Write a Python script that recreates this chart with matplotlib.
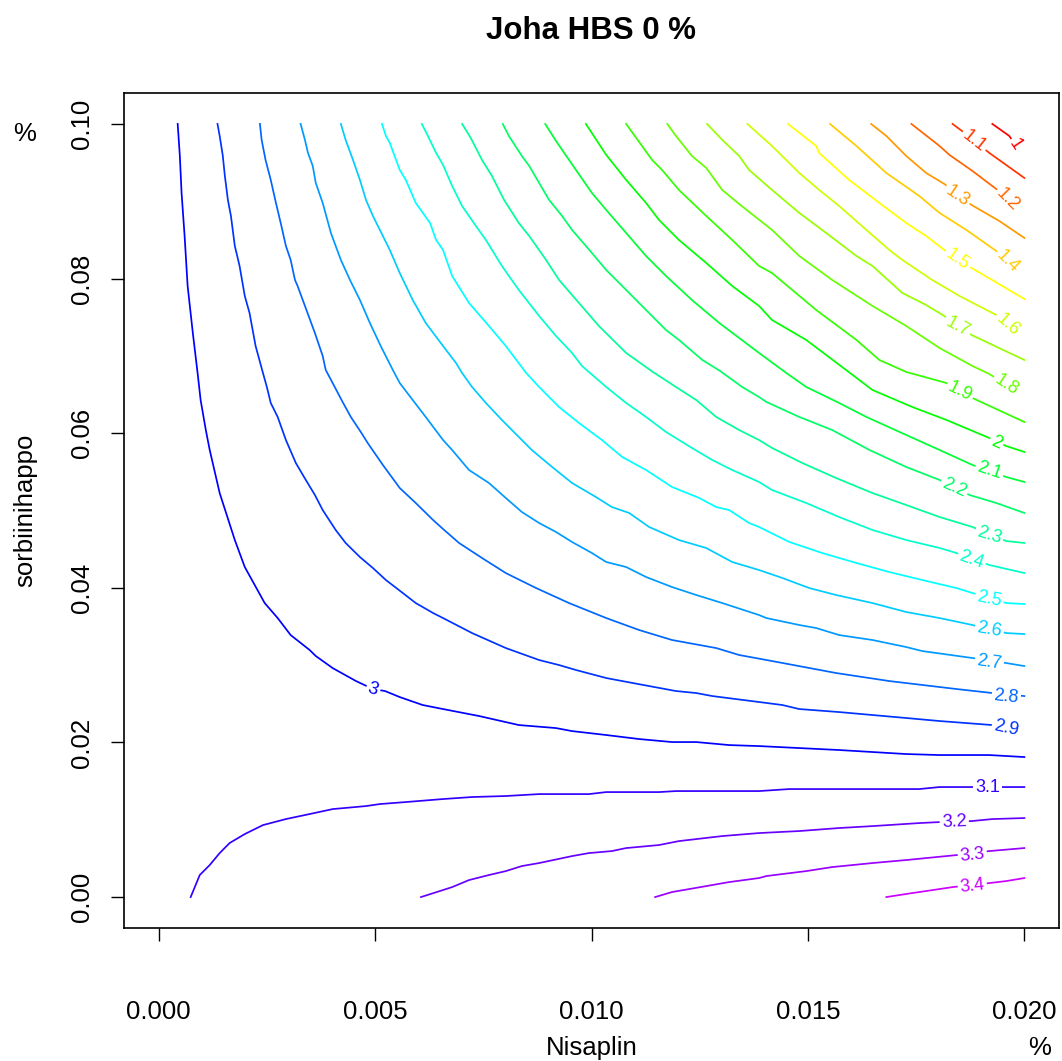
import colorsys
import numpy as np
import matplotlib
matplotlib.use("Agg")
import matplotlib.pyplot as plt

plt.rcParams['font.family'] = ['Liberation Sans', 'DejaVu Sans']

## Contour lines of the HBS response.
## x = Nisaplin (%), y = sorbiinihappo (%), both written in units of 1e-3 %

x_10 = [19.26, 19.65, 19.79]
y_10 = [100.0, 98.45, 97.28]
x_11 = [18.34, 18.59, 19.19, 20.0]
y_11 = [100.0, 98.96, 96.25, 93.01]
x_12 = [17.39, 18.04, 18.27, 18.80, 19.38, 19.61]
y_12 = [100.0, 97.15, 95.99, 93.92, 91.46, 90.17]
x_13 = [16.46, 16.81, 17.27, 17.73, 18.15, 18.78, 19.42, 20.0]
y_13 = [100.0, 98.45, 95.86, 93.66, 92.24, 89.52, 87.45, 85.25]
x_14 = [15.51, 16.12, 16.81, 17.57, 18.04, 18.66, 19.35, 19.61]
y_14 = [100.0, 97.15, 93.66, 90.69, 88.49, 86.29, 83.57, 82.15]
x_15 = [14.54, 15.19, 15.26, 15.95, 16.65, 17.27, 17.73, 18.15, 18.78, 20.0]
y_15 = [100.0, 97.15, 96.25, 92.76, 89.78, 87.19, 85.51, 83.70, 81.37, 77.36]
x_16 = [13.60, 14.17, 14.80, 15.26, 15.72, 16.35, 16.88, 17.18, 17.87, 18.50, 19.35, 19.61]
y_16 = [100.0, 97.15, 93.66, 91.46, 89.39, 86.29, 83.70, 82.41, 79.82, 77.75, 75.29, 74.00]
x_17 = [12.67, 13.02, 13.41, 13.64, 14.17, 14.80, 15.42, 16.12, 16.49, 17.18, 17.73, 18.15, 18.78, 20.0]
y_17 = [100.0, 97.93, 95.86, 94.05, 91.46, 88.49, 85.90, 82.92, 81.63, 78.14, 76.58, 75.16, 72.70, 69.47]
x_18 = [11.75, 11.95, 12.32, 12.65, 13.02, 13.41, 14.17, 14.80, 15.56, 16.49, 17.27, 18.04, 18.80, 19.19, 19.58]
y_18 = [100.0, 98.45, 95.86, 94.31, 91.46, 89.65, 86.29, 82.92, 79.82, 76.46, 73.87, 71.02, 68.69, 67.66, 66.24]
x_19 = [10.80, 11.40, 11.63, 12.02, 12.65, 13.25, 13.87, 14.17, 15.19, 16.12, 16.65, 17.27, 18.20, 18.80, 20.0]
y_19 = [100.0, 95.34, 94.05, 91.46, 88.10, 84.99, 81.63, 80.72, 75.94, 72.06, 69.47, 67.92, 66.49, 64.55, 61.45]
x_20 = [9.87, 10.34, 10.80, 11.26, 11.56, 12.02, 12.65, 13.25, 13.87, 14.17, 14.96, 15.88, 16.49, 17.41, 18.20, 19.19, 19.58, 20.0]
y_20 = [100.0, 95.99, 92.76, 89.78, 87.58, 84.99, 82.02, 79.04, 76.46, 74.64, 72.06, 68.18, 65.59, 63.39, 61.71, 59.38, 58.34, 57.57]
x_21 = [8.93, 9.18, 9.64, 10.01, 10.34, 10.80, 11.26, 11.72, 12.32, 12.95, 13.87, 14.50, 14.96, 15.72, 16.35, 17.27, 18.04, 18.80, 19.58, 20.0]
y_21 = [100.0, 97.80, 94.05, 91.07, 88.87, 85.90, 82.92, 80.34, 77.23, 74.26, 70.38, 67.79, 65.98, 63.91, 62.10, 59.77, 57.83, 55.89, 54.33, 53.69]
x_22 = [7.95, 8.09, 8.39, 8.56, 8.79, 9.02, 9.32, 9.55, 9.87, 10.34, 10.80, 11.26, 11.72, 12.02, 12.56, 12.97, 13.48, 13.87, 14.04, 14.80, 15.56, 16.42, 17.27, 18.04, 18.73, 19.35, 20.0]
y_22 = [100.0, 98.45, 95.86, 94.57, 92.37, 90.17, 88.10, 86.29, 84.22, 81.11, 78.53, 75.94, 73.35, 72.06, 69.47, 68.05, 65.98, 64.68, 64.04, 62.10, 60.41, 57.83, 55.63, 53.95, 52.01, 50.97, 49.68]
x_23 = [7.01, 7.21, 7.47, 7.70, 7.98, 8.32, 8.56, 8.95, 9.25, 9.71, 10.17, 10.80, 11.40, 11.95, 12.42, 12.88, 13.41, 13.87, 14.17, 14.87, 15.65, 16.49, 17.27, 18.04, 18.80, 19.58, 20.0]
y_23 = [100.0, 98.19, 95.34, 93.27, 90.17, 87.19, 85.51, 82.41, 79.82, 76.84, 73.87, 70.38, 67.99, 65.98, 64.29, 62.10, 60.41, 59.12, 58.09, 56.14, 54.20, 52.26, 50.71, 49.16, 47.87, 46.05, 45.80]
x_24 = [6.08, 6.22, 6.41, 6.57, 6.78, 7.01, 7.33, 7.56, 7.93, 8.32, 8.79, 9.18, 9.55, 9.78, 10.34, 10.80, 11.26, 11.72, 12.32, 12.79, 13.25, 13.87, 14.17, 14.96, 15.72, 16.49, 17.27, 18.04, 18.43, 19.19, 20.0]
y_24 = [100.0, 98.45, 96.25, 94.70, 91.98, 89.39, 86.80, 84.99, 81.63, 78.53, 75.16, 72.57, 70.38, 68.69, 65.98, 63.91, 62.10, 60.16, 58.09, 56.53, 55.24, 53.69, 52.65, 50.97, 49.16, 47.48, 46.18, 45.15, 44.50, 42.95, 41.91]
x_25 = [5.16, 5.25, 5.34, 5.57, 5.71, 5.94, 6.27, 6.41, 6.57, 6.78, 7.17, 7.63, 8.02, 8.49, 8.79, 9.25, 9.71, 10.24, 10.71, 11.26, 11.86, 12.49, 12.88, 13.18, 13.64, 13.87, 14.57, 15.33, 16.12, 16.88, 17.64, 18.43, 18.80, 19.58, 20.0]
y_25 = [100.0, 98.45, 97.54, 94.05, 92.76, 89.78, 87.19, 84.99, 83.70, 80.34, 76.84, 73.87, 71.28, 67.79, 65.98, 63.39, 61.32, 59.12, 56.92, 55.24, 53.04, 51.62, 50.45, 50.06, 48.38, 47.87, 45.93, 44.50, 43.21, 42.04, 41.01, 39.97, 39.33, 38.03, 37.90]
x_26 = [4.21, 4.32, 4.49, 4.65, 4.79, 4.95, 5.18, 5.34, 5.57, 5.87, 6.17, 6.57, 6.87, 7.01, 7.24, 7.56, 7.93, 8.16, 8.62, 9.09, 9.55, 10.10, 10.47, 10.87, 11.33, 12.02, 12.65, 13.25, 13.87, 14.41, 15.03, 15.65, 16.49, 17.27, 18.04, 18.80, 19.58, 20.0]
y_26 = [100.0, 97.93, 95.34, 92.76, 90.17, 88.10, 85.51, 83.70, 80.72, 77.23, 74.26, 71.28, 69.08, 67.79, 65.98, 63.91, 61.71, 60.41, 57.83, 55.63, 53.56, 51.75, 50.45, 49.68, 47.87, 46.18, 45.15, 43.34, 42.30, 41.27, 39.97, 39.07, 38.03, 36.87, 36.09, 35.19, 34.15, 34.02]
x_27 = [3.28, 3.38, 3.45, 3.56, 3.63, 3.79, 3.98, 4.09, 4.21, 4.42, 4.65, 4.88, 5.13, 5.41, 5.57, 5.87, 6.17, 6.57, 6.78, 7.17, 7.63, 8.02, 8.39, 8.79, 9.18, 9.55, 10.01, 10.34, 10.80, 11.26, 11.86, 12.42, 13.02, 13.87, 14.04, 14.80, 15.19, 15.72, 16.49, 17.27, 17.64, 18.80, 19.58, 20.0]
y_27 = [100.0, 97.93, 96.25, 94.57, 92.37, 89.78, 85.90, 84.22, 82.41, 79.82, 77.23, 74.26, 71.28, 68.18, 66.49, 64.29, 62.10, 59.12, 57.83, 55.24, 53.56, 51.62, 49.81, 48.38, 47.22, 45.93, 44.50, 43.34, 42.69, 41.40, 40.10, 39.07, 38.03, 36.48, 36.09, 35.19, 34.80, 33.89, 33.25, 32.34, 31.82, 30.92, 30.27, 29.88]
x_28 = [2.34, 2.38, 2.47, 2.59, 2.71, 2.82, 2.94, 3.05, 3.15, 3.21, 3.38, 3.61, 3.79, 3.86, 4.02, 4.25, 4.44, 4.67, 4.83, 5.18, 5.57, 5.94, 6.34, 6.57, 6.94, 7.47, 8.02, 8.72, 9.48, 10.34, 11.10, 11.86, 12.88, 13.41, 14.17, 15.65, 16.88, 18.43, 19.26, 20.0]
y_28 = [100.0, 97.93, 95.34, 92.76, 89.78, 87.19, 84.22, 82.41, 79.82, 79.04, 76.46, 72.96, 69.99, 68.18, 66.49, 64.04, 62.10, 60.16, 58.73, 55.89, 52.91, 50.97, 48.77, 47.61, 45.80, 43.86, 41.91, 39.97, 38.03, 36.09, 34.54, 33.25, 32.21, 31.31, 30.53, 28.98, 27.94, 26.91, 26.39, 26.00]
x_29 = [1.36, 1.41, 1.48, 1.53, 1.60, 1.67, 1.76, 1.87, 1.99, 2.10, 2.24, 2.41, 2.50, 2.59, 2.75, 2.94, 3.17, 3.40, 3.61, 3.79, 4.09, 4.32, 4.65, 4.95, 5.25, 5.64, 5.94, 6.34, 6.57, 7.24, 8.02, 8.79, 9.25, 9.64, 10.34, 10.71, 11.95, 12.42, 12.79, 13.87, 14.41, 14.80, 15.72, 17.27, 18.04, 19.26, 19.58]
y_29 = [100.0, 98.45, 95.99, 93.27, 90.17, 88.10, 84.22, 81.63, 77.75, 75.55, 71.28, 67.79, 65.98, 63.91, 62.10, 59.12, 56.14, 53.95, 52.01, 50.06, 47.48, 45.80, 43.98, 42.56, 41.01, 39.33, 38.03, 36.74, 36.09, 34.15, 32.21, 30.66, 30.01, 29.37, 28.33, 27.94, 26.65, 26.39, 26.00, 25.23, 24.84, 24.32, 23.93, 23.16, 22.77, 22.25, 21.86]
x_30 = [0.44, 0.49, 0.53, 0.60, 0.67, 0.79, 0.90, 0.97, 1.09, 1.18, 1.41, 1.76, 1.99, 2.45, 2.75, 3.05, 3.49, 3.63, 4.02, 4.56, 4.95, 5.23, 5.57, 6.10, 6.57, 7.40, 8.32, 9.18, 9.55, 10.34, 11.10, 11.86, 12.42, 13.18, 13.87, 14.34, 15.72, 17.27, 18.04, 19.19, 20.0]
y_30 = [100.0, 95.86, 91.07, 85.51, 79.04, 72.96, 67.79, 64.29, 60.41, 57.83, 52.26, 46.18, 42.69, 38.03, 36.09, 33.89, 31.95, 31.18, 29.62, 27.94, 26.91, 26.65, 25.87, 24.84, 24.32, 23.42, 22.25, 21.86, 21.47, 20.96, 20.44, 20.05, 20.05, 19.66, 19.53, 19.40, 19.02, 18.50, 18.37, 18.37, 18.11]
x_31 = [0.74, 0.95, 1.18, 1.41, 1.64, 1.99, 2.41, 2.94, 3.49, 4.02, 4.79, 5.11, 5.71, 6.57, 7.24, 8.02, 8.79, 9.94, 10.34, 11.56, 11.95, 13.87, 14.57, 17.57, 18.04, 20.0]
y_31 = [0.0, 2.85, 4.14, 5.69, 6.99, 8.15, 9.31, 10.09, 10.74, 11.38, 11.77, 12.03, 12.29, 12.68, 12.94, 13.07, 13.32, 13.32, 13.58, 13.58, 13.71, 13.71, 13.97, 13.97, 14.23, 14.23]
x_32 = [6.06, 6.57, 6.78, 7.17, 7.63, 8.02, 8.39, 8.79, 9.55, 9.94, 10.47, 10.80, 11.56, 12.02, 13.02, 13.87, 14.80, 15.72, 16.49, 17.57, 18.04, 18.78, 19.26, 20.0]
y_32 = [0.0, 0.91, 1.29, 2.20, 2.85, 3.36, 4.01, 4.40, 5.30, 5.69, 5.95, 6.34, 6.73, 7.24, 7.89, 8.28, 8.54, 8.93, 9.18, 9.57, 9.70, 9.83, 10.09, 10.22]
x_33 = [11.47, 11.86, 12.65, 13.18, 13.87, 14.04, 14.96, 15.56, 16.49, 17.27, 18.43, 19.19, 20.0]
y_33 = [0.0, 0.65, 1.42, 1.94, 2.46, 2.72, 3.36, 3.88, 4.40, 4.79, 5.43, 5.95, 6.34]
x_34 = [16.81, 17.41, 17.73, 18.34, 19.19, 19.58, 20.0]
y_34 = [0.0, 0.52, 0.78, 1.29, 1.81, 2.07, 2.46]

levels = [1.0, 1.1, 1.2, 1.3, 1.4, 1.5, 1.6, 1.7, 1.8, 1.9, 2.0, 2.1,
          2.2, 2.3, 2.4, 2.5, 2.6, 2.7, 2.8, 2.9, 3.0, 3.1, 3.2, 3.3, 3.4]
line_x = [x_10, x_11, x_12, x_13, x_14, x_15, x_16, x_17, x_18, x_19, x_20, x_21,
          x_22, x_23, x_24, x_25, x_26, x_27, x_28, x_29, x_30, x_31, x_32, x_33, x_34]
line_y = [y_10, y_11, y_12, y_13, y_14, y_15, y_16, y_17, y_18, y_19, y_20, y_21,
          y_22, y_23, y_24, y_25, y_26, y_27, y_28, y_29, y_30, y_31, y_32, y_33, y_34]

# where R put the contour labels (same units)
lab_x = [19.79, 18.84, 19.61, 18.45, 19.61, 18.45, 19.61, 18.45, 19.58, 18.50, 19.35, 19.19,
         18.38, 19.19, 18.78, 19.19, 19.19, 19.19, 19.58, 19.58, 4.95, 19.15, 18.38, 18.80, 18.80]
lab_y = [97.28, 97.80, 90.17, 90.69, 82.15, 82.41, 74.00, 73.74, 66.24, 65.33, 58.73, 55.11,
         52.98, 46.83, 43.60, 38.55, 34.54, 30.40, 25.87, 21.86, 26.80, 14.23, 9.70, 5.43, 1.42]

x_ticks = [0.000, 0.005, 0.010, 0.015, 0.020]
y_ticks = [0.00, 0.02, 0.04, 0.06, 0.08, 0.10]

W, H = 1062, 1061
fig = plt.figure(figsize=(W / 100, H / 100), dpi=100)
ax = fig.add_axes([124 / W, 1 - 928 / H, (1059 - 124) / W, (928 - 93) / H])
ax.set_xlim(-0.0008, 0.0208)
ax.set_ylim(-0.004, 0.104)

for i, lev in enumerate(levels):
    col = colorsys.hsv_to_rgb(i / 30.0, 1.0, 1.0)
    xs = np.array(line_x[i]) / 1000.0
    ys = np.array(line_y[i]) / 1000.0
    ax.plot(xs, ys, color=col, lw=1.25, solid_joinstyle='round', zorder=2)

    # label follows the local direction of the line (like R's contour())
    lx, ly = lab_x[i] / 1000.0, lab_y[i] / 1000.0
    pts = ax.transData.transform(np.column_stack([xs, ys]))
    p = ax.transData.transform((lx, ly))
    j = int(np.argmin(np.hypot(pts[:, 0] - p[0], pts[:, 1] - p[1])))
    a = pts[max(j - 1, 0)]
    b = pts[min(j + 1, len(pts) - 1)]
    ang = np.degrees(np.arctan2(b[1] - a[1], b[0] - a[0]))
    if ang > 90:
        ang -= 180
    if ang < -90:
        ang += 180
    ax.text(lx, ly, '%g' % lev, color=col, fontsize=13, rotation=ang,
            rotation_mode='anchor', ha='center', va='center', zorder=3,
            bbox=dict(facecolor='white', edgecolor='none', pad=1.5))

ax.set_xticks(x_ticks)
ax.set_xticklabels(['%.3f' % v for v in x_ticks])
ax.set_yticks(y_ticks)
ax.set_yticklabels(['%.2f' % v for v in y_ticks], rotation=90, va='center')
ax.tick_params(axis='both', labelsize=18.5, length=9.5, width=1.0, direction='out', color='black')
ax.tick_params(axis='x', pad=42)
ax.tick_params(axis='y', pad=12)
for s in ax.spines.values():
    s.set_linewidth(1.2)

fig.text(591 / W, 1 - 31 / H, 'Joha HBS 0 %', ha='center', va='center', fontsize=22.5, fontweight='bold')
fig.text(592 / W, 1 - 1048 / H, 'Nisaplin', ha='center', va='center', fontsize=18.5)
fig.text(1040 / W, 1 - 1048 / H, '%', ha='center', va='center', fontsize=18.5)
fig.text(25 / W, 1 - 510 / H, 'sorbiinihappo', ha='center', va='center', rotation=90, fontsize=18.5)
fig.text(25 / W, 1 - 134 / H, '%', ha='center', va='center', fontsize=18.5)

fig.savefig('out.png', dpi=100)
